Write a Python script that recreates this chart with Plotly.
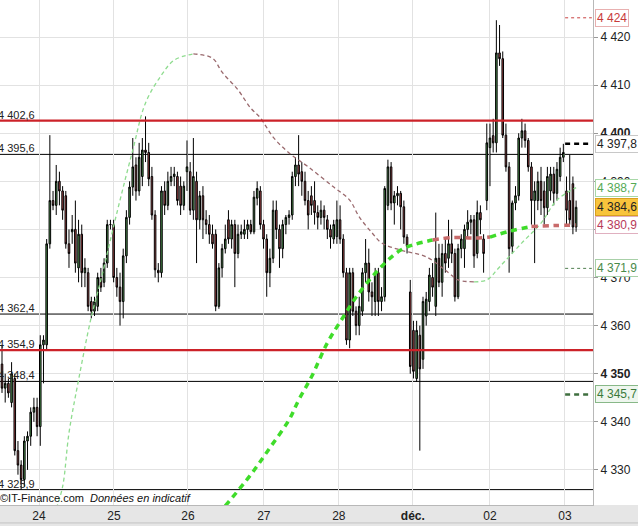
import plotly.graph_objects as go

# ---- candles (one per bar, index = time slot) ----
opens = [
    4352, 4347, 4348, 4344, 4349, 4334, 4331, 4328, 4336, 4337,
    4342, 4343, 4339, 4356, 4356, 4377, 4386, 4385, 4390, 4388,
    4387, 4377, 4379.5, 4380, 4372, 4379, 4371, 4371, 4365, 4363,
    4364, 4370, 4369, 4373, 4381, 4381, 4370, 4368, 4365, 4374.5,
    4382.5, 4388.8, 4393.4, 4388, 4391, 4396.5, 4396, 4391, 4383, 4371.5,
    4371, 4388, 4385, 4390, 4391, 4391, 4389, 4385, 4392, 4392,
    4384, 4390, 4382, 4387, 4382, 4381, 4379, 4379, 4364, 4372,
    4376, 4382, 4378, 4381, 4375, 4379, 4379, 4380, 4381, 4379.5,
    4386.5, 4388, 4381, 4378, 4371, 4374, 4384, 4380, 4376, 4381,
    4382.5, 4383, 4391, 4393.4, 4392, 4390, 4386, 4387, 4386, 4383.5,
    4382.5, 4384, 4382, 4380, 4378, 4378.5, 4382, 4378, 4371, 4357,
    4371, 4363, 4360, 4363, 4371, 4373, 4367, 4365, 4371, 4365,
    4366, 4385, 4393, 4385.5, 4387, 4387.5, 4384.7, 4378.4, 4367, 4359,
    4349, 4358, 4353, 4362, 4365, 4370, 4364, 4374, 4369, 4375,
    4374, 4377, 4375, 4366, 4376, 4376, 4380, 4381.5, 4382, 4375,
    4383.5, 4378, 4386, 4397, 4399.5, 4398, 4416.7, 4415.5, 4399.6, 4393,
    4376.5, 4385.5, 4387, 4399, 4400.5, 4398.5, 4393, 4386, 4386, 4390,
    4388, 4384.5, 4388, 4391.5, 4387.5, 4391, 4395, 4388, 4386, 4389.5,
    4380.5,
]
highs = [
    4356, 4350, 4349, 4352.4, 4350, 4336, 4332, 4337, 4338, 4343,
    4345, 4345, 4358, 4358, 4378, 4399.6, 4388, 4393.4, 4392, 4389,
    4388, 4380, 4383, 4386, 4382, 4381, 4374, 4372, 4366, 4366,
    4371, 4372, 4374, 4382, 4382, 4382, 4372, 4371, 4376, 4384,
    4390, 4399, 4395, 4398, 4399, 4403.5, 4398, 4393, 4384, 4373,
    4389, 4390, 4392, 4393, 4393, 4392, 4391, 4390, 4398.5, 4394,
    4399, 4392, 4388, 4389, 4384, 4383, 4381, 4380, 4373, 4377,
    4381, 4384, 4382, 4382, 4381, 4381, 4382, 4382, 4382, 4388,
    4390, 4389, 4382, 4379, 4376, 4386, 4386, 4381, 4382, 4383,
    4384, 4392, 4395, 4399.6, 4394, 4392, 4388, 4389, 4390, 4385,
    4386, 4385, 4383, 4381, 4382, 4386, 4385, 4379, 4372, 4372,
    4372, 4364, 4366, 4372, 4378, 4376, 4369, 4372, 4372, 4368,
    4389, 4394.5, 4394, 4388, 4389, 4388, 4386, 4379, 4369.5, 4361,
    4361, 4360, 4366, 4367, 4372, 4373, 4383.5, 4377, 4377, 4378,
    4382, 4380, 4376, 4377, 4379, 4381, 4384, 4383, 4383, 4386,
    4385, 4379, 4402, 4402, 4403, 4423.5, 4422.5, 4417, 4402, 4394,
    4386, 4389, 4400, 4403, 4402, 4399, 4394, 4390, 4392, 4393,
    4390, 4393, 4393, 4393, 4394, 4397, 4397.8, 4391, 4395.5, 4391,
    4386,
]
lows = [
    4346, 4344, 4345, 4343, 4333, 4329, 4325.9, 4326.5, 4330, 4335,
    4340, 4337, 4335, 4348, 4355, 4376, 4384, 4383, 4385, 4382,
    4376, 4372, 4377, 4371, 4369, 4368, 4368, 4363, 4361.5, 4362,
    4363, 4367, 4368, 4372, 4380, 4369, 4366, 4360, 4361.5, 4373,
    4381, 4387, 4386, 4387, 4389, 4394, 4389, 4382, 4370, 4369,
    4370, 4383, 4384, 4389, 4389, 4385, 4383, 4384, 4388, 4383,
    4382, 4373, 4380, 4378, 4379, 4377, 4376, 4363, 4363.5, 4370,
    4375, 4377, 4376, 4368, 4374, 4378, 4378, 4378, 4379, 4379,
    4385, 4380, 4376, 4366, 4368, 4373, 4378, 4372, 4374, 4379,
    4381, 4382, 4389, 4389, 4387, 4385, 4380, 4383, 4381, 4380,
    4381, 4380, 4378, 4376, 4377, 4377, 4377, 4370, 4356, 4355.3,
    4362, 4358, 4358, 4362, 4369, 4365, 4362, 4362, 4362, 4363,
    4365, 4384, 4384, 4381, 4385, 4380, 4377, 4375, 4350, 4349,
    4348.3, 4334, 4351, 4360, 4363, 4366, 4362, 4368, 4366, 4371,
    4372, 4373, 4365, 4365.5, 4374, 4372, 4378, 4379, 4372, 4374,
    4379, 4371, 4384, 4389, 4396, 4396, 4414, 4399, 4392, 4371,
    4375, 4384, 4386, 4397, 4397, 4392, 4381, 4373, 4384, 4383,
    4381, 4383, 4386, 4385, 4386, 4390, 4394, 4381, 4381, 4379,
    4379.5,
]
closes = [
    4347, 4348, 4346, 4350, 4334, 4331, 4328, 4336, 4337, 4342,
    4343, 4339, 4356, 4357, 4377, 4386, 4385, 4390, 4388, 4384,
    4377, 4375, 4380, 4373, 4379, 4371, 4372, 4364, 4363, 4365,
    4370, 4368, 4373, 4381, 4381, 4370, 4368, 4365, 4374.5, 4382.5,
    4388.8, 4393, 4388, 4395, 4396.5, 4396, 4390.5, 4383, 4371.6, 4371,
    4388, 4385, 4390, 4391, 4391.5, 4386, 4385, 4389, 4393, 4384,
    4391, 4382, 4387, 4382, 4381, 4379, 4377, 4364, 4372, 4376,
    4378, 4378, 4381, 4375, 4379, 4379.5, 4380, 4381, 4379.5, 4386.7,
    4388.5, 4381, 4378, 4371, 4374, 4384, 4380, 4376, 4381, 4382.5,
    4383, 4391, 4393.4, 4391.5, 4390, 4386, 4383, 4385, 4383.5, 4382.5,
    4384, 4382.5, 4380, 4378.4, 4381, 4382, 4378, 4371, 4357, 4371,
    4363, 4360, 4364, 4371, 4373, 4367, 4366, 4371, 4365, 4366,
    4388.5, 4393, 4385.5, 4387, 4387.5, 4384.7, 4378.4, 4376.5, 4351.5, 4350.5,
    4359, 4351, 4365, 4365.5, 4370.5, 4368, 4374, 4369, 4375, 4373,
    4377, 4375, 4366, 4376, 4378, 4380, 4381.5, 4382, 4374.5, 4383.5,
    4382, 4375, 4398, 4399, 4398, 4416.7, 4415.5, 4399.6, 4393, 4376,
    4385.5, 4387, 4399, 4400.5, 4398.5, 4393, 4386, 4388, 4390, 4386,
    4384.5, 4391, 4391.5, 4387.5, 4392.5, 4395, 4396, 4384, 4382, 4380.5,
    4384.6,
]
bar_idx = list(range(len(closes)))

# ---- day ticks (bar positions) ----
day_pos = [11.6, 35.1, 58.3, 82.1, 105.6, 128.8, 153.0, 176.5]
day_text = ["24", "25", "26", "27", "28", "<b>déc.</b>", "02", "03"]

# ---- indicator curves, read at bar positions ----
thin_k = [17, 19, 21, 24, 28, 31, 36, 41, 45, 50, 54, 60, 66, 69, 74, 78, 81, 85,
          90, 96, 104, 109, 112, 116, 119, 125, 133, 140, 143, 148, 152, 156,
          163, 169, 174, 180]
thin_v = [4322.0, 4326.5, 4337.7, 4348.7, 4361.8, 4369.5, 4383.4, 4396.5, 4406.3,
          4412.1, 4415.2, 4416.5, 4415.6, 4412.7, 4409.0, 4405.2, 4403.2, 4399.2,
          4395.9, 4393.0, 4388.8, 4386.1, 4382.6, 4379.3, 4377.2, 4375.7, 4374.3,
          4371.0, 4369.5, 4369.1, 4369.5, 4372.2, 4377.2, 4381.3, 4386.1, 4388.7]
thick_k = [70, 78, 84, 90, 93, 97, 102, 107, 111, 116, 121, 125, 129, 135, 141,
           148, 153, 159, 166, 173, 180]
thick_v = [4322.5, 4329.0, 4334.6, 4340.4, 4344.5, 4349.3, 4356.4, 4361.8, 4365.9,
           4370.1, 4373.6, 4375.7, 4376.8, 4377.8, 4378.3, 4378.2, 4378.4, 4379.6,
           4380.6, 4380.8, 4380.9]

# ---- support / resistance levels ----
black_levels = [4395.6, 4362.4, 4348.4, 4325.9]
red_levels = [4402.6, 4354.9]
level_text = {4402.6: "4 402,6", 4395.6: "4 395,6", 4362.4: "4 362,4",
              4354.9: "4 354,9", 4348.4: "4 348,4", 4325.9: "4 325,9"}

# ---- right side projections / last values ----
proj_levels = [4424, 4397.8, 4371.9, 4345.7]
right_vals = [4424, 4397.8, 4388.7, 4384.6, 4380.9, 4371.9, 4345.7]
right_text = ["4 424", "4 397,8", "4 388,7", "4 384,6", "4 380,9", "4 371,9", "4 345,7"]

y_ticks = [4330, 4340, 4350, 4360, 4370, 4380, 4390, 4400, 4410, 4420]
y_ticktext = ["4 330", "4 340", "<b>4 350</b>", "4 360", "4 370", "4 380", "4 390",
              "<b>4 400</b>", "4 410", "4 420"]

FONT = "Liberation Sans, Arial, sans-serif"

fig = go.Figure()

fig.add_trace(go.Candlestick(
    x=bar_idx, open=opens, high=highs, low=lows, close=closes,
    increasing=dict(line=dict(color="black", width=1), fillcolor="#4f9550"),
    decreasing=dict(line=dict(color="black", width=1), fillcolor="#a9484a"),
    whiskerwidth=0, hoverinfo="skip",
))


def color_runs(ks, vs, thr):
    runs = []
    for i in range(len(ks) - 1):
        up = (vs[i + 1] - vs[i]) / (ks[i + 1] - ks[i]) > thr
        if runs and runs[-1][0] == up:
            runs[-1][1].append(i + 1)
        else:
            runs.append([up, [i, i + 1]])
    return runs


for up, idx in color_runs(thin_k, thin_v, 0.0):
    fig.add_trace(go.Scatter(
        x=[thin_k[j] for j in idx], y=[thin_v[j] for j in idx], mode="lines",
        line=dict(color="#8fdc8f" if up else "#9a6a6e", width=1.3, dash="4px,3px",
                  shape="spline"),
        hoverinfo="skip"))

for up, idx in color_runs(thick_k, thick_v, 0.12):
    fig.add_trace(go.Scatter(
        x=[thick_k[j] for j in idx], y=[thick_v[j] for j in idx], mode="lines",
        line=dict(color="#3fdc2a" if up else "#c86a6a", width=3.5, dash="6px,5px",
                  shape="spline"),
        hoverinfo="skip"))

shapes = []
for lv in black_levels:
    shapes.append(dict(type="line", xref="paper", x0=0, x1=1, yref="y", y0=lv, y1=lv,
                       line=dict(color="black", width=1), layer="below"))
for lv in red_levels:
    shapes.append(dict(type="line", xref="paper", x0=0, x1=1, yref="y", y0=lv, y1=lv,
                       line=dict(color="#cc2229", width=2.2), layer="above"))

proj_style = [("#c84040", 1, "3px,3px"), ("black", 2.5, "5px,4px"),
              ("#4f7f4f", 1, "3px,3px"), ("#3f6f3f", 2.5, "5px,4px")]
for lv, (col, w, d) in zip(proj_levels, proj_style):
    shapes.append(dict(type="line", xref="paper", x0=0.953, x1=0.998, yref="y",
                       y0=lv, y1=lv, line=dict(color=col, width=w, dash=d)))

# x-axis band at the bottom
shapes.append(dict(type="rect", xref="paper", yref="paper", x0=-0.01, x1=1.08,
                   y0=-0.042, y1=0, fillcolor="#e6e6e6", line=dict(width=0),
                   layer="below"))
shapes.append(dict(type="line", xref="paper", yref="paper", x0=-0.01, x1=1.08,
                   y0=-0.0355, y1=-0.0355, line=dict(color="#c4c4c4", width=1),
                   layer="below"))

annotations = []
for lv, txt in level_text.items():
    annotations.append(dict(xref="paper", x=0, xanchor="left", xshift=-4, yref="y",
                            y=lv, yanchor="bottom", yshift=-2, text=txt, showarrow=False,
                            font=dict(family=FONT, size=11, color="#222")))

right_style = [("#c83a3a", "#e8b0b0", "white"), ("#222", "#c8c8c8", "white"),
               ("#55aa55", "#a8d8a8", "white"), ("#222", "#d8a020", "#f8c43c"),
               ("#b83a5a", "#e0b0c0", "white"), ("#4a8a4a", "#a8d0a8", "white"),
               ("#3a7a3a", "#88b888", "#eef6ee")]
for v, txt, (fc, bc, bg) in zip(right_vals, right_text, right_style):
    annotations.append(dict(xref="paper", x=1, xanchor="left", xshift=2, yref="y", y=v,
                            text=txt, showarrow=False, bgcolor=bg, bordercolor=bc,
                            borderwidth=1, borderpad=1,
                            font=dict(family=FONT, size=12, color=fc)))

annotations.append(dict(xref="paper", x=0, xanchor="left", xshift=-2, yref="paper", y=0,
                        yanchor="bottom", yshift=-1,
                        text="©IT-Finance.com  <i>Données en indicatif</i>",
                        showarrow=False, font=dict(family=FONT, size=11, color="#111")))

fig.update_layout(
    width=638, height=526,
    margin=dict(l=0, r=45, t=0, b=21),
    paper_bgcolor="white", plot_bgcolor="white",
    showlegend=False,
    shapes=shapes, annotations=annotations,
    font=dict(family=FONT, size=12, color="#222"),
    xaxis=dict(range=[-0.63, 185.3], tickvals=day_pos, ticktext=day_text,
               showgrid=True, gridcolor="#e2e2e2", gridwidth=1,
               rangeslider=dict(visible=False), ticks="", showline=True,
               linecolor="#b8b8b8", zeroline=False, fixedrange=True,
               tickfont=dict(family=FONT, size=12, color="#222")),
    yaxis=dict(range=[4322.7, 4427.7], side="right", tickvals=y_ticks,
               ticktext=y_ticktext, showgrid=True, gridcolor="#e2e2e2",
               ticks="outside", ticklen=4, tickcolor="#999", showline=True,
               linecolor="#b8b8b8", zeroline=False,
               tickfont=dict(family=FONT, size=12, color="#222")),
)

fig.write_html("out.html", config={"displayModeBar": False},
               post_script="document.body.style.margin='0';"
                           "document.body.style.overflow='hidden';")
